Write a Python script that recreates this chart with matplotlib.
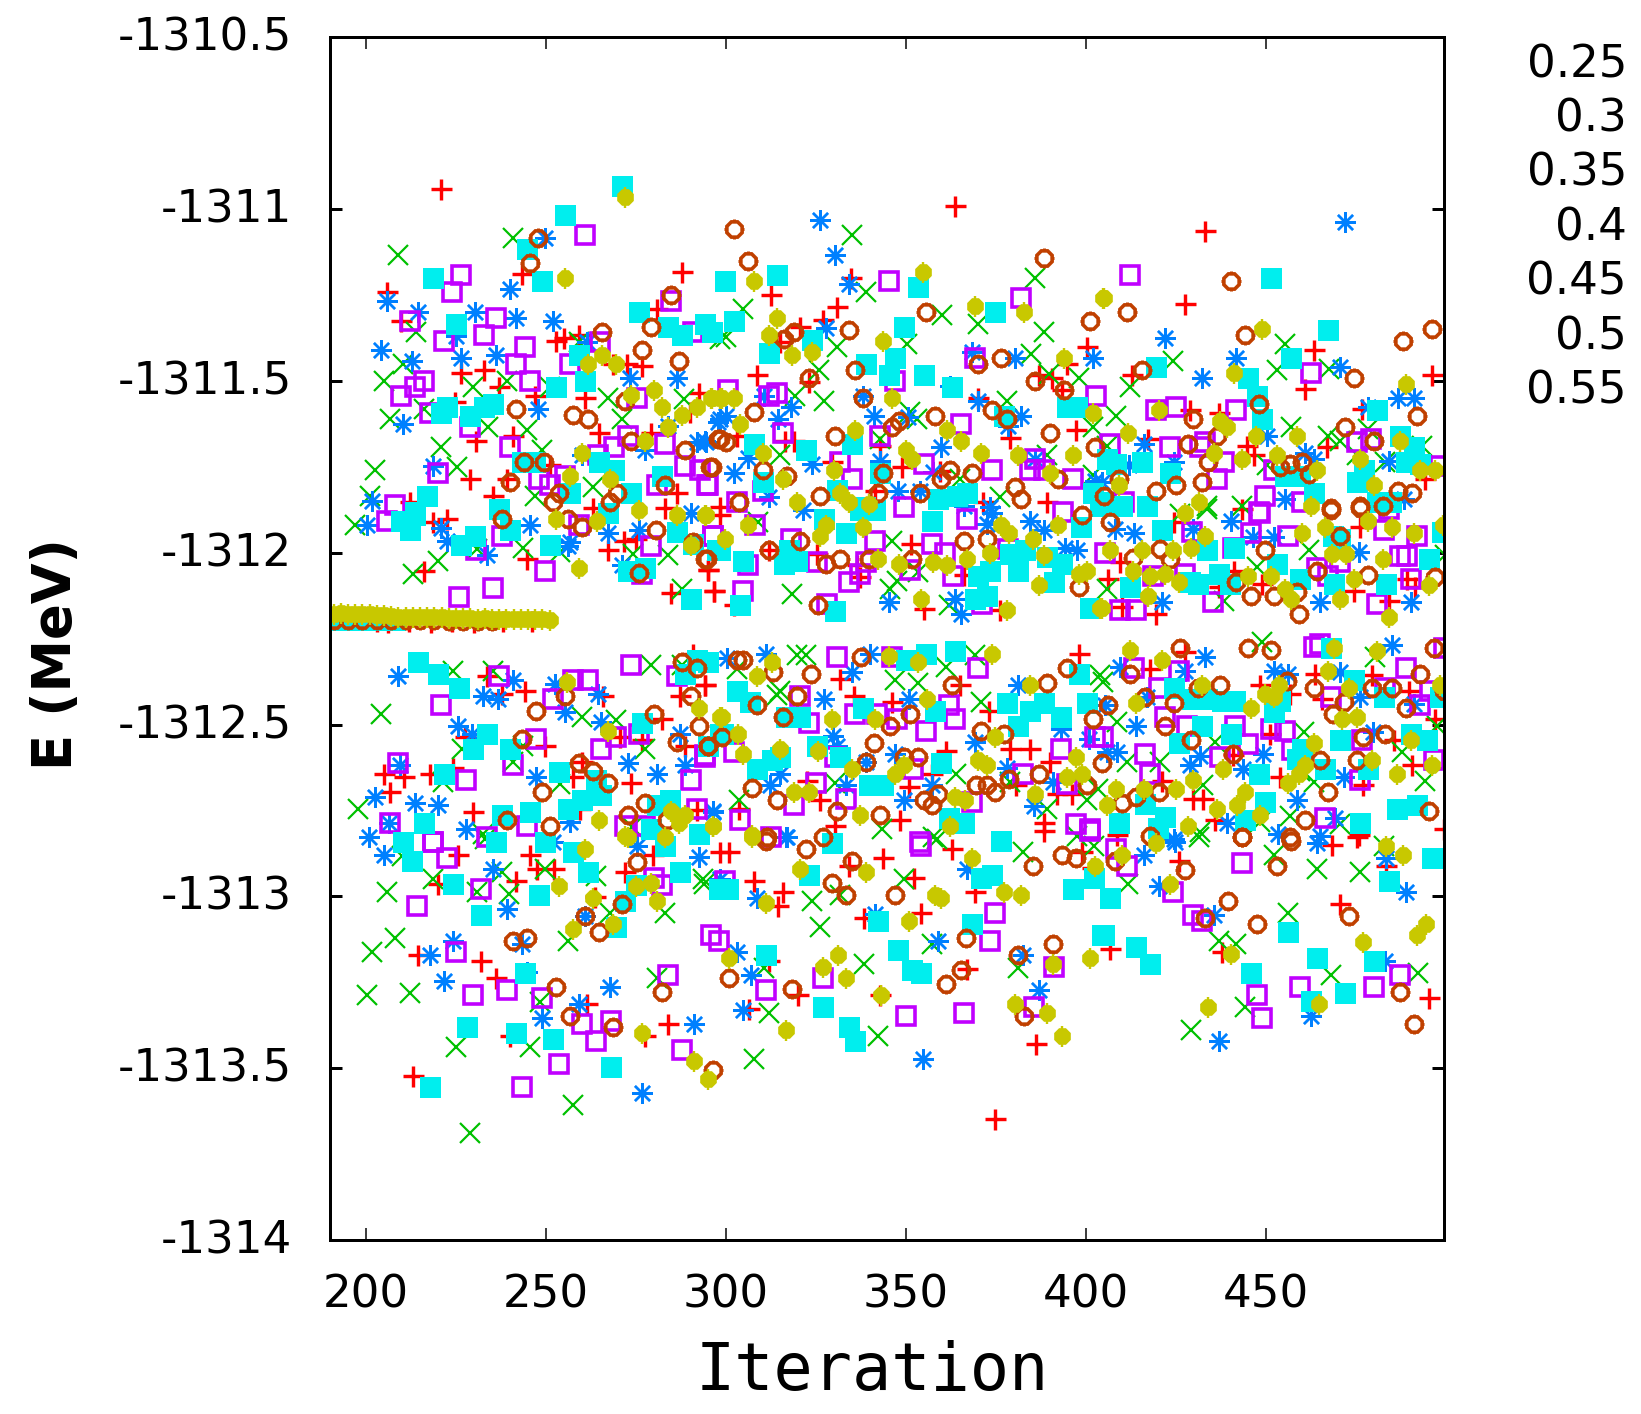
#!/usr/bin/env python
# -*- coding: utf-8 -*-
from matplotlib import pyplot as plt
from matplotlib.path import Path
from matplotlib.transforms import ScaledTranslation

labels = ["0.25", "0.3", "0.35", "0.4", "0.45", "0.5", "0.55"]
xtick_vals = [200, 250, 300, 350, 400, 450]
ytick_vals = [-1310.5, -1311, -1311.5, -1312, -1312.5, -1313, -1313.5, -1314]
ytick_text = ["-1310.5", "-1311", "-1311.5", "-1312", "-1312.5", "-1313", "-1313.5", "-1314"]

# values, (iteration, energy)
pts_025 = [
    (220.8,-1310.941),(205.7,-1311.242),(243.2,-1311.19),(287.8,-1311.183),(209.7,-1311.325),(280.7,-1311.29),
    (259.2,-1311.365),(252.8,-1311.384),(255.1,-1311.375),(272.6,-1311.45),(276.6,-1311.458),(226.4,-1311.476),
    (232.7,-1311.467),(236.9,-1311.517),(268.7,-1311.45),(292.6,-1311.535),(246.8,-1311.543),(260.8,-1311.551),
    (224.7,-1311.56),(230.5,-1311.676),(240.8,-1311.659),(264.8,-1311.651),(279.1,-1311.651),(228.9,-1311.785),
    (239.2,-1311.785),(235.3,-1311.835),(251.1,-1311.746),(286.3,-1311.826),(283,-1311.87),(263.1,-1311.87),
    (212.2,-1311.853),(290,-1311.59),
    (222.4,-1311.901),(218.7,-1311.911),(271.7,-1311.967),(267.1,-1311.993),(275,-1311.959),(244.7,-1312.018),
    (216.2,-1312.053),(295,-1312.05),(284.7,-1312.118),(296.6,-1312.11),(290.9,-1312.294),(294.1,-1312.385),
    (233.5,-1312.358),(244.1,-1312.402),(237.7,-1312.41),(287.2,-1312.418),(265.7,-1312.418),(227.5,-1312.537),
    (282.1,-1312.483),(270.5,-1312.537),(249.7,-1312.561),(276.7,-1312.546),(288.6,-1312.561),(259.9,-1312.609),
    (205,-1312.644),(210.5,-1312.653),(217.8,-1312.644),(224.2,-1312.627),(206.8,-1312.695),(273.6,-1312.669),
    (257.6,-1312.653),(229.7,-1312.754),(291.8,-1312.75),(259.4,-1312.747),
    (225.6,-1312.88),(245.5,-1312.88),(279.8,-1312.88),(247.4,-1312.92),(252.3,-1312.92),(271.9,-1312.93),
    (220.1,-1312.964),(241.6,-1312.954),(263.6,-1313.003),(214.5,-1313.171),(232,-1313.187),(236.1,-1313.238),
    (261.3,-1313.313),(240,-1313.405),(277.5,-1313.405),(283.9,-1313.371),(213,-1313.522),(298.3,-1312.87),
    (363.6,-1310.991),(312.5,-1311.25),(330.9,-1311.285),(334.7,-1311.2),(320.6,-1311.344),(327,-1311.324),
    (400.2,-1311.401),(315,-1311.387),(308.6,-1311.484),(322.9,-1311.504),(386.8,-1311.484),(390.5,-1311.492),
    (394.7,-1311.45),(393.3,-1311.525),(369.9,-1311.55),(397.2,-1311.642),(378.9,-1311.667),(316.4,-1311.674),
    (319,-1311.676),(303,-1311.659),(348.8,-1311.751),(329.4,-1311.735),(359.5,-1311.761),(341.4,-1311.819),
    (371.5,-1311.851),(389.1,-1311.851),(298.4,-1311.868),(342.8,-1311.688),
    (298.2,-1311.891),(311.8,-1311.993),(351.3,-1311.974),(325.2,-1312.003),(336.3,-1312.037),(295.1,-1312.05),
    (366,-1312.066),(337.2,-1312.071),(296.7,-1312.11),(302.1,-1312.153),(355,-1312.165),(376.1,-1312.168),
    (398.1,-1312.294),(331.7,-1312.367),(365,-1312.384),(294.2,-1312.384),(335.4,-1312.417),(346,-1312.435),
    (372.9,-1312.46),(378.9,-1312.57),(384.5,-1312.57),(361.1,-1312.578),(390,-1312.609),(322.4,-1312.663),
    (357.2,-1312.643),(350.7,-1312.682),(326.1,-1312.72),(380.4,-1312.677),(391.9,-1312.701),(396,-1312.701),
    (303.7,-1312.745),(348.2,-1312.777),(330.3,-1312.796),(388.2,-1312.786),
    (300.7,-1312.87),(362.7,-1312.862),(343.7,-1312.888),(334.2,-1312.911),(307.8,-1312.954),(352.1,-1312.947),
    (398.9,-1312.872),(315.8,-1312.986),(369.2,-1312.988),(314.3,-1313.029),(354.1,-1313.047),(338.2,-1313.063),
    (311.8,-1313.187),(366.9,-1313.211),(320.1,-1313.287),(342.8,-1313.287),(306.5,-1313.328),(386,-1313.43),
    (374.7,-1313.648),(401.6,-1312.916),(388.4,-1312.81),
    (433.1,-1311.065),(427.5,-1311.276),(463.4,-1311.41),(412.7,-1311.484),(460.9,-1311.523),(496,-1311.484),
    (428.9,-1311.586),(437,-1311.593),(466.9,-1311.691),(476.6,-1311.581),(444.7,-1311.688),(446.5,-1311.715),
    (494.2,-1311.785),(417.3,-1311.669),
    (443.3,-1311.872),(424.3,-1311.911),(476.1,-1311.925),(409.5,-1312.027),(406,-1312.076),(448.8,-1312.09),
    (436.8,-1312.1),(441,-1312.052),(491.4,-1312.1),(474.3,-1312.11),(489.1,-1312.076),(484,-1312.139),
    (409.9,-1312.158),(419.5,-1312.178),(427.5,-1312.289),(417.8,-1312.338),(463.6,-1312.352),(479.4,-1312.357),
    (448.4,-1312.386),(456.7,-1312.41),(489.6,-1312.401),(465.5,-1312.425),(497,-1312.483),(451.1,-1312.527),
    (485.4,-1312.546),(453.9,-1312.653),(490.5,-1312.617),(440.9,-1312.59),(421,-1312.663),(432.6,-1312.716),
    (429.8,-1312.716),(477,-1312.677),(435.9,-1312.779),(475.7,-1312.821),(408.5,-1312.821),(499.3,-1312.803),
    (468.3,-1312.85),(475.2,-1312.828),(425.9,-1312.896),(483.4,-1312.911),(406.7,-1313.153),(470.4,-1313.022),
    (437.8,-1313.163),(495.3,-1313.296),
    (203,-1312.2),(206,-1312.202),(212,-1312.2),(218,-1312.201),(224,-1312.2),(230,-1312.201),(238,-1312.2),(246,-1312.2),
]
pts_03 = [
    (209,-1311.133),(240.8,-1311.084),(213.8,-1311.358),(205,-1311.5),(210.3,-1311.45),(229.7,-1311.518),
    (239.2,-1311.5),(216.1,-1311.581),(206.6,-1311.61),(233.9,-1311.633),(244.7,-1311.642),(220.9,-1311.693),
    (248.8,-1311.701),(202.5,-1311.759),(225.4,-1311.751),(201.1,-1311.835),(246.9,-1311.835),(263,-1311.809),
    (267.1,-1311.55),(271,-1311.61),(288.3,-1311.552),(259.2,-1311.387),(251.1,-1311.517),(298.3,-1311.378),
    (196.9,-1311.919),(220.1,-1312.025),(213.1,-1312.061),(243.7,-1311.987),(283.8,-1312.006),(274.2,-1312.003),
    (230.7,-1311.989),(253.9,-1311.998),(287.7,-1312.105),(224.2,-1312.343),(235.3,-1312.343),(279.1,-1312.326),
    (287.7,-1312.328),(204.1,-1312.469),(259.9,-1312.478),(269.4,-1312.488),(226.6,-1312.57),(243.7,-1312.561),
    (277.5,-1312.57),(240.9,-1312.609),(253.9,-1312.672),(197.7,-1312.745),(221.5,-1312.667),(232.6,-1312.818),
    (273.8,-1312.798),
    (205.7,-1312.988),(218.7,-1312.95),(230.7,-1312.988),(239.8,-1312.993),(237.7,-1312.93),(249.7,-1312.92),
    (264,-1312.94),(283,-1313.047),(267.8,-1313.047),(208,-1313.121),(201.6,-1313.163),(256,-1313.13),
    (200.2,-1313.288),(212.2,-1313.281),(248.3,-1313.308),(280.7,-1313.238),(225,-1313.438),(245.5,-1313.438),
    (257.6,-1313.606),(228.9,-1313.689),(293.9,-1312.964),(293.7,-1312.95),(209.9,-1312.882),(233,-1312.833),
    (334.9,-1311.074),(304.6,-1311.29),(339,-1311.242),(359.9,-1311.307),(385.9,-1311.2),(369.9,-1311.334),
    (388.4,-1311.358),(300,-1311.373),(350.3,-1311.392),(330.9,-1311.402),(384.7,-1311.423),(389.6,-1311.48),
    (325.7,-1311.467),(397.9,-1311.492),(327.1,-1311.559),(319.2,-1311.543),(378,-1311.559),(351.1,-1311.591),
    (353,-1311.61),(402,-1311.635),(342.8,-1311.669),(315,-1311.717),(365,-1311.785),(376.1,-1311.838),
    (402,-1311.775),(389.1,-1311.717),
    (346,-1311.967),(309,-1311.911),(318.3,-1312.119),(345.4,-1312.105),(347.4,-1312.081),(353.4,-1312.056),
    (361.8,-1312.153),(319.7,-1312.297),(322.2,-1312.297),(369.2,-1312.297),(361.1,-1312.333),(303,-1312.338),
    (347,-1312.369),(353.3,-1312.378),(403.9,-1312.357),(315,-1312.403),(314.1,-1312.415),(370.9,-1312.435),
    (363.9,-1312.643),(330.3,-1312.669),(378.9,-1312.667),(303.7,-1312.721),(400.2,-1312.721),(389.1,-1312.745),
    (343.3,-1312.803),(357.6,-1312.828),(397.4,-1312.823),
    (358.5,-1312.833),(382.6,-1312.87),(349.3,-1312.948),(402.1,-1312.852),(323.9,-1313.013),(331.7,-1312.996),
    (326.1,-1313.09),(357.2,-1313.139),(338.2,-1313.197),(310.4,-1313.207),(381.2,-1313.207),(312,-1313.339),
    (342.2,-1313.405),(307.8,-1313.473),
    (424.1,-1311.442),(455.3,-1311.392),(453,-1311.468),(412.2,-1311.518),(408.4,-1311.601),(467.5,-1311.465),
    (456.9,-1311.633),(478.4,-1311.64),(467.1,-1311.659),(493.3,-1311.688),(470.6,-1311.674),(475.2,-1311.717),
    (483.1,-1311.737),(450.2,-1311.746),(405.8,-1311.688),(433.5,-1311.863),(443.3,-1311.863),
    (426.1,-1311.887),(433.5,-1311.874),(461.8,-1311.993),(447.4,-1312.042),(405.8,-1312.105),(438.2,-1312.139),
    (448.8,-1312.26),(404.8,-1312.377),(480.3,-1312.304),(408.5,-1312.493),(435.9,-1312.551),(497.4,-1312.503),
    (460.4,-1312.522),(487.7,-1312.58),(420.6,-1312.609),(411.3,-1312.609),(432.6,-1312.677),(494.2,-1312.663),
    (459.5,-1312.635),(463.2,-1312.667),(403.4,-1312.687),(456.7,-1312.765),(499.7,-1312.008),(448.4,-1312.784),
    (470.6,-1312.789),(431.7,-1312.813),
    (431.4,-1312.828),(452.1,-1312.88),(464.1,-1312.92),(476.1,-1312.93),(411.5,-1312.964),(482.6,-1312.852),
    (456.2,-1313.047),(437,-1313.13),(441.7,-1313.139),(468.1,-1313.228),(492.1,-1313.223),(444.2,-1313.322),
    (429.1,-1313.389),
]
pts_035 = [
    (205.7,-1311.267),(214.5,-1311.3),(230.4,-1311.299),(241.6,-1311.317),(251.9,-1311.325),(240,-1311.232),
    (249.7,-1311.084),(204.1,-1311.409),(212.9,-1311.442),(226.4,-1311.433),(236,-1311.424),(273.4,-1311.492),
    (286.3,-1311.491),(247.9,-1311.583),(210.3,-1311.626),(291.8,-1311.678),(294.4,-1311.678),(298.3,-1311.61),
    (277.5,-1311.7),(260,-1311.717),(218.6,-1311.749),(201.6,-1311.848),(225,-1311.368),(261.3,-1311.387),(283.9,-1311.63),
    (200.2,-1311.919),(220.8,-1311.927),(222.4,-1311.967),(245.5,-1311.919),(267.2,-1311.943),(275.9,-1311.935),
    (256.6,-1311.969),(256.2,-1311.979),(233.5,-1312.008),(290.2,-1311.884),(271,-1312.037),(209,-1312.36),
    (240.7,-1312.369),(252.5,-1312.381),(232.6,-1312.418),(236.7,-1312.425),(264.5,-1312.41),(255.2,-1312.464),
    (225.6,-1312.503),(229.3,-1312.527),(265.4,-1312.493),(287.2,-1312.527),(209.4,-1312.619),(272.7,-1312.611),
    (288.6,-1312.619),(280.7,-1312.643),(247.2,-1312.653),(202.5,-1312.711),(213.6,-1312.728),(220.1,-1312.735),
    (296.5,-1312.753),(206.5,-1312.786),(227.9,-1312.803),(256.6,-1312.784),(200.9,-1312.828),
    (205,-1312.88),(235.3,-1312.92),(275.2,-1312.853),(292.6,-1312.886),(252,-1312.843),(239.2,-1313.037),
    (260.8,-1313.056),(224.1,-1313.13),(243.2,-1313.139),(217.8,-1313.171),(221.6,-1313.245),(244.6,-1313.221),
    (267.9,-1313.264),(259.1,-1313.313),(248.8,-1313.355),(291.1,-1313.371),(276.6,-1313.572),(298.3,-1312.95),
    (326.1,-1311.033),(330.2,-1311.133),(334.1,-1311.217),(327.8,-1311.347),(368.4,-1311.417),(380.3,-1311.433),
    (401.9,-1311.433),(310.4,-1311.543),(338,-1311.543),(362.2,-1311.514),(369.9,-1311.557),(318.1,-1311.576),
    (300,-1311.601),(314.4,-1311.611),(341.2,-1311.601),(350.4,-1311.606),(382,-1311.601),(297.9,-1311.62),
    (378.4,-1311.63),(294.2,-1311.675),(359.7,-1311.691),(306.2,-1311.725),(323.8,-1311.743),(342.8,-1311.732),
    (385.9,-1311.727),(302.2,-1311.768),(311.8,-1311.838),(347.7,-1311.819),(353.9,-1311.819),(357.6,-1311.766),
    (402.5,-1311.79),(366,-1311.863),(373.4,-1311.868),
    (321.5,-1311.875),(373.8,-1311.884),(384.5,-1311.909),(372.4,-1311.916),(388.2,-1311.935),(394.2,-1311.987),
    (397.4,-1311.993),(345.3,-1312.142),(363.6,-1312.134),(365.3,-1312.178),(300.2,-1312.307),(311,-1312.294),
    (340,-1312.294),(334.9,-1312.347),(381.2,-1312.384),(327.1,-1312.427),(350.9,-1312.427),(393.1,-1312.512),
    (400.7,-1312.541),(329.8,-1312.532),(369.2,-1312.551),(347,-1312.585),(330.8,-1312.561),(338.8,-1312.609),
    (378,-1312.627),(315,-1312.643),(390.7,-1312.667),(312.2,-1312.677),(333.3,-1312.677),(357.2,-1312.677),
    (349.3,-1312.719),(385.4,-1312.738),(296.5,-1312.755),(316.9,-1312.828),
    (316.6,-1312.828),(366.9,-1312.92),(308.5,-1313.005),(341.4,-1313.051),(358.8,-1313.13),(303,-1313.163),
    (382.6,-1313.171),(307,-1313.229),(386.8,-1313.272),(304.7,-1313.331),(354.8,-1313.473),
    (472,-1311.038),(422,-1311.375),(441.7,-1311.433),(470.6,-1311.459),(432.2,-1311.491),(478.4,-1311.576),
    (486.5,-1311.55),(491.1,-1311.55),(450.2,-1311.659),(416.2,-1311.683),(460.9,-1311.709),(463.2,-1311.727),
    (484,-1311.734),(424.3,-1311.737),(411.8,-1311.746),(404.4,-1311.795),(455.3,-1311.843),(488.2,-1311.843),
    (440.2,-1311.909),(413.2,-1311.943),(408.1,-1311.93),(429.8,-1311.93),(452.1,-1311.955),(446.3,-1311.955),
    (475.7,-1311.998),(421,-1312.144),(465,-1312.144),(490.3,-1312.144),(433.1,-1312.304),(484.9,-1312.268),
    (409.5,-1312.333),(452.1,-1312.343),(456.2,-1312.352),(427.5,-1312.343),(470.6,-1312.347),(416.9,-1312.42),
    (405.3,-1312.444),(476.1,-1312.42),(413.9,-1312.503),(491,-1312.44),(479.8,-1312.522),(408.5,-1312.58),
    (405.8,-1312.58),(431.5,-1312.592),(449.1,-1312.585),(428.9,-1312.619),(443.7,-1312.629),(471.5,-1312.653),
    (458.7,-1312.719),(469,-1312.771),(439.1,-1312.787),(453.4,-1312.818),(424.3,-1312.832),(465,-1312.823),
    (424.6,-1312.841),(464.1,-1312.845),(416.2,-1312.88),(483.4,-1312.888),(420.3,-1312.969),(488.8,-1312.986),
    (435.4,-1313.054),(483.1,-1313.187),(462.5,-1313.347),(437,-1313.421),
]
pts_04 = [
    (260.8,-1311.075),(226.4,-1311.191),(224,-1311.241),(212.2,-1311.325),(236.1,-1311.317),(221.6,-1311.384),
    (232.8,-1311.366),(244.1,-1311.401),(284.7,-1311.267),(241.6,-1311.45),(256.6,-1311.45),(216,-1311.5),
    (213.7,-1311.517),(245.5,-1311.5),(209.7,-1311.544),(217.8,-1311.592),(228.9,-1311.633),(275.2,-1311.55),
    (272.8,-1311.659),(240,-1311.692),(268.8,-1311.692),(283,-1311.683),(288.6,-1311.749),(292.8,-1311.759),
    (220.1,-1311.768),(255.3,-1311.776),(264.5,-1311.717),(251.1,-1311.803),(295.1,-1311.803),(248,-1311.785),
    (280.7,-1311.803),(208,-1311.861),(265,-1311.387),(290.9,-1311.358),
    (205.7,-1311.909),(237.7,-1311.95),(230.5,-1311.993),(279.1,-1311.979),(249.7,-1312.053),(296.5,-1311.95),
    (276.6,-1312.061),(259.2,-1311.919),(235.3,-1312.102),(225.8,-1312.128),(273.6,-1312.326),(286.3,-1312.36),
    (236.9,-1312.36),(257.6,-1312.369),(261.6,-1312.369),(220.8,-1312.444),(251.8,-1312.427),(269.4,-1312.536),
    (275.8,-1312.527),(247.2,-1312.543),(265.4,-1312.57),(240.9,-1312.619),(294.1,-1312.593),(208.8,-1312.611),
    (227.9,-1312.661),(290.2,-1312.661),(206.6,-1312.786),(244.6,-1312.794),(271.9,-1312.794),(277.5,-1312.794),
    (291.8,-1312.745),(233.5,-1312.828),(218.7,-1312.842),
    (218.5,-1312.843),(222.4,-1312.888),(232,-1312.979),(280,-1312.947),(282.1,-1312.968),(214.3,-1313.029),
    (224.9,-1313.163),(295.8,-1313.112),(298.1,-1313.13),(239.1,-1313.273),(229.7,-1313.288),(248.8,-1313.296),
    (283.9,-1313.228),(259.9,-1313.371),(268,-1313.363),(263.9,-1313.421),(287.7,-1313.446),(253.6,-1313.488),
    (243.3,-1313.555),
    (345.3,-1311.209),(382,-1311.258),(300.6,-1311.526),(347,-1311.499),(314.1,-1311.535),(312,-1311.543),
    (402.8,-1311.543),(369.2,-1311.433),(365.2,-1311.625),(315.9,-1311.651),(342.8,-1311.659),(331.7,-1311.737),
    (373.8,-1311.759),(355,-1311.741),(384.5,-1311.759),(388.4,-1311.759),(396.3,-1311.785),(334.9,-1311.785),
    (385.9,-1311.727),(294.8,-1311.802),(310.2,-1311.819),(303,-1311.853),(349.3,-1311.868),(393.7,-1311.882),
    (366.9,-1311.901),(308.1,-1311.919),(296.5,-1311.95),(357.2,-1311.974),(318,-1311.96),(341.4,-1311.967),
    (306.2,-1312.035),(360.9,-1312),(325.2,-1312.027),(338.9,-1312.027),(351,-1312.051),(334.2,-1312.085),
    (337.2,-1312.061),(362.9,-1312.068),(304.8,-1312.11),(328,-1312.15),(371,-1312.15),(378.4,-1311.99),
    (330.9,-1312.303),(369.9,-1312.335),(346.1,-1312.303),(320.6,-1312.417),(361.8,-1312.444),(335.9,-1312.469),
    (341.9,-1312.469),(347.4,-1312.483),(363.6,-1312.485),(355.6,-1312.519),(323,-1312.495),(393,-1312.57),
    (402.5,-1312.536),(302.1,-1312.58),(294.2,-1312.59),(330.3,-1312.593),(351.8,-1312.629),(325,-1312.669),
    (382.6,-1312.643),(394.7,-1312.672),(333.4,-1312.718),(318.9,-1312.735),(303.9,-1312.777),(312.5,-1312.828),
    (397.2,-1312.789),(401.1,-1312.803),(353.9,-1312.842),(368.3,-1312.726),
    (354.2,-1312.853),(401.1,-1312.81),(299.7,-1312.954),(374.7,-1313.047),(373.4,-1313.13),(327,-1313.238),
    (391,-1313.205),(311.1,-1313.273),(350,-1313.347),(366.1,-1313.339),(385.4,-1313.323),
    (412.2,-1311.191),(462.5,-1311.477),(419.5,-1311.584),(425,-1311.576),(441.7,-1311.584),(406.7,-1311.683),
    (423.4,-1311.692),(433.1,-1311.678),(431.5,-1311.693),(438.2,-1311.737),(436.3,-1311.785),(452.1,-1311.759),
    (475.2,-1311.678),(479.2,-1311.669),(498.4,-1311.749),(410.4,-1311.853),(449.7,-1311.834),(459.9,-1311.853),
    (447.9,-1311.882),
    (448.2,-1311.884),(484,-1311.872),(429.4,-1311.94),(445.9,-1311.943),(456,-1311.95),(491.9,-1311.95),
    (482.6,-1311.935),(440.8,-1311.987),(405.3,-1312),(487.2,-1312.01),(489.1,-1312.01),(464.1,-1312.044),
    (470.6,-1312.027),(427.5,-1312.061),(418.7,-1312.068),(467.3,-1312.068),(490.3,-1312.076),(435.2,-1312.144),
    (409.3,-1312.168),(413.9,-1312.168),(480.8,-1312.15),(425.9,-1312.343),(413.2,-1312.335),(488.8,-1312.335),
    (463.4,-1312.275),(465,-1312.267),(499.3,-1312.277),(420.2,-1312.394),(468.1,-1312.419),(483.1,-1312.394),
    (495.6,-1312.402),(492.8,-1312.444),(422,-1312.478),(428,-1312.503),(441.4,-1312.503),(451.4,-1312.512),
    (455.3,-1312.519),(404.8,-1312.536),(445.1,-1312.556),(416.4,-1312.585),(437.2,-1312.595),(457.2,-1312.575),
    (476.6,-1312.546),(417.8,-1312.643),(496.5,-1312.604),(476.1,-1312.661),(466.4,-1312.771),
    (408.4,-1312.862),(443.3,-1312.904),(411.3,-1312.911),(424.1,-1312.986),(429.7,-1313.054),(432.2,-1313.071),
    (459.5,-1313.263),(480,-1313.263),(487.2,-1313.229),(447.4,-1313.288),(448.9,-1313.355),
]
pts_045 = [
    (271.1,-1310.932),(255.2,-1311.017),(244.7,-1311.116),(218.6,-1311.2),(248.9,-1311.209),(225,-1311.334),
    (275.8,-1311.299),(283.8,-1311.343),(287.7,-1311.366),(294.1,-1311.334),(296,-1311.358),(259.1,-1311.424),
    (260.8,-1311.5),(252.8,-1311.517),(222.4,-1311.576),(220.8,-1311.593),(235.3,-1311.567),(232.7,-1311.576),
    (228.9,-1311.602),(243.3,-1311.737),(246.9,-1311.737),(264.7,-1311.737),(268.8,-1311.759),(256.6,-1311.826),
    (273.6,-1311.826),(282.2,-1311.776),(216.9,-1311.835),(299.7,-1311.208),(236.9,-1311.872),(213.6,-1311.882),
    (209.7,-1311.909),(213.6,-1311.891),(212.2,-1311.935),(240,-1311.935),(230.4,-1311.952),(226.4,-1311.977),
    (251.1,-1311.977),(267.3,-1311.884),(286.3,-1311.94),(290.9,-1311.974),(297.4,-1311.993),(272.8,-1312.052),
    (277.5,-1312.044),(290.3,-1312.134),(214.4,-1312.319),(220.1,-1312.352),(225.8,-1312.393),(291.9,-1312.311),
    (295,-1312.318),(288.6,-1312.352),(276.6,-1312.495),(233.6,-1312.527),(229.7,-1312.57),(240,-1312.57),
    (298.3,-1312.527),(295,-1312.561),(221.6,-1312.643),(253.6,-1312.637),(263.9,-1312.661),(259.9,-1312.719),
    (265.4,-1312.704),(256,-1312.745),(284.4,-1312.719),(280.7,-1312.735),(245.5,-1312.754),(237.8,-1312.763),
    (216.1,-1312.786),(279.1,-1312.803),(292.6,-1312.818),(236.1,-1312.842),(249.7,-1312.842),(210.3,-1312.842),
    (212.9,-1312.896),(257.4,-1312.87),(261.6,-1312.928),(283,-1312.853),(287.2,-1312.928),(224.1,-1312.964),
    (248,-1312.996),(232,-1313.054),(271.9,-1313.013),(275,-1312.968),(269.3,-1313.088),(244.1,-1313.223),
    (228,-1313.38),(241.6,-1313.398),(251.9,-1313.415),(268,-1313.497),(217.8,-1313.555),(298.1,-1312.979),
    (299.7,-1311.209),(314.2,-1311.191),(353.4,-1311.226),(374.7,-1311.299),(349.3,-1311.343),(302.2,-1311.325),
    (312,-1311.418),(323.9,-1311.382),(338.9,-1311.45),(347,-1311.433),(345.3,-1311.484),(355,-1311.484),
    (362.8,-1311.517),(394.7,-1311.576),(397.4,-1311.576),(377.2,-1311.603),(307.8,-1311.683),(322.2,-1311.701),
    (334.9,-1311.683),(342.8,-1311.768),(310.3,-1311.794),(330.9,-1311.817),(358.9,-1311.843),(364.1,-1311.834),
    (366.9,-1311.826),(401.9,-1311.826),(338.6,-1311.868),(403.9,-1311.853),
    (357.2,-1311.909),(327.1,-1311.901),(333.4,-1311.943),(337.2,-1311.877),(341.4,-1311.877),(298.4,-1311.993),
    (304.7,-1312.025),(316,-1312.034),(319.7,-1312.025),(317.6,-1311.993),(398.6,-1311.925),(378.9,-1312.003),
    (383.1,-1311.993),(389.1,-1312.013),(393.3,-1312.032),(381,-1312.052),(373.4,-1312.052),(370,-1312.068),
    (391,-1312.085),(372.4,-1312.127),(369.2,-1312.134),(303.9,-1312.151),(330.3,-1312.169),(401.1,-1312.16),
    (363.6,-1312.285),(355.5,-1312.294),(349.9,-1312.312),(398.1,-1312.352),(303,-1312.401),(306.7,-1312.435),
    (378.1,-1312.437),(388.4,-1312.437),(384.5,-1312.46),(393,-1312.478),(400.2,-1312.437),(338,-1312.452),
    (358.1,-1312.46),(316.7,-1312.478),(320.6,-1312.478),(381,-1312.503),(299.1,-1312.527),(325.2,-1312.561),
    (331.7,-1312.593),(312.7,-1312.602),(315,-1312.595),(359.7,-1312.611),(308.5,-1312.629),(339.7,-1312.677),
    (343.7,-1312.677),(362,-1312.771),(366,-1312.787),
    (376.4,-1312.838),(329.5,-1312.845),(323.1,-1312.938),(370.9,-1312.947),(373.8,-1312.938),(396.4,-1312.979),
    (402.1,-1312.947),(300.6,-1312.979),(342.2,-1313.071),(368.3,-1313.08),(404.4,-1313.112),(311.1,-1313.171),
    (347.8,-1313.156),(351.7,-1313.214),(354.2,-1313.223),(327,-1313.322),(334.2,-1313.38),(335.9,-1313.421),
    (451.4,-1311.2),(467.2,-1311.351),(456.9,-1311.433),(419.5,-1311.459),(445,-1311.491),(447.4,-1311.543),
    (480.8,-1311.584),(448.9,-1311.61),(487.2,-1311.659),(405.8,-1311.727),(408.4,-1311.741),(415.5,-1311.737),
    (423.4,-1311.768),(491.1,-1311.691),(492.8,-1311.741),(488.9,-1311.737),(455.3,-1311.776),(459.5,-1311.776),
    (477.1,-1311.759),(475.3,-1311.795),(463.4,-1311.826),(409.9,-1311.863),(416.9,-1311.863),(404.4,-1311.863),
    (480.8,-1311.853),(484.7,-1311.853),
    (421,-1311.935),(468.7,-1311.951),(441.2,-1311.986),(433.5,-1311.993),(495.3,-1312.018),(470.6,-1311.959),
    (436.8,-1312.061),(431.2,-1312.09),(440,-1312.09),(459.5,-1312.076),(468.9,-1312.092),(412.2,-1312.1),
    (483.3,-1312.092),(428.9,-1312.085),(498.8,-1311.94),(453,-1312.032),(424.3,-1312.393),(468,-1312.277),
    (474.3,-1312.37),(429.4,-1312.425),(433.5,-1312.425),(437.7,-1312.43),(441.4,-1312.43),(498.4,-1312.42),
    (453.9,-1312.43),(452.1,-1312.464),(482.6,-1312.42),(432.2,-1312.503),(440.3,-1312.527),(470.6,-1312.544),
    (459.9,-1312.57),(425.7,-1312.553),(490.3,-1312.527),(494.7,-1312.544),(458.7,-1312.6),(448.1,-1312.643),
    (466.4,-1312.629),(478.4,-1312.629),(449.7,-1312.726),(486.3,-1312.745),(491.9,-1312.735),(416.4,-1312.73),
    (444.2,-1312.777),(409.2,-1312.786),(422,-1312.769),(476.1,-1312.786),(420.1,-1312.8),
    (496,-1312.888),(484.2,-1312.954),(406.7,-1313.005),(456.1,-1313.103),(405,-1313.112),(413.9,-1313.147),
    (417.8,-1313.196),(464.2,-1313.179),(480,-1313.188),(445.9,-1313.223),(472,-1313.281),(462.5,-1313.304),
    (189,-1312.195),(193,-1312.196),(197,-1312.195),(201,-1312.196),(205,-1312.195),(208,-1312.196),
]
pts_05 = [
    (247.9,-1311.084),(245.5,-1311.158),(284.7,-1311.25),(265.5,-1311.358),(279.1,-1311.343),(276.6,-1311.409),
    (287,-1311.442),(241.6,-1311.583),(257.6,-1311.6),(261.6,-1311.61),(271.8,-1311.559),(273.6,-1311.675),
    (288.6,-1311.7),(296,-1311.751),(297.8,-1311.669),(243.9,-1311.735),(249.4,-1311.735),(240,-1311.793),
    (253.5,-1311.826),(251.9,-1311.851),(269.6,-1311.826),(267.9,-1311.851),(283,-1311.802),
    (237.7,-1311.901),(256.2,-1311.901),(259.9,-1311.925),(280.5,-1311.935),(290.9,-1311.969),(294.2,-1312.018),
    (275.9,-1312.058),(287.9,-1312.318),(291.8,-1312.335),(255.2,-1312.418),(290.2,-1312.418),(247.2,-1312.46),
    (280,-1312.469),(292.6,-1312.503),(243.2,-1312.543),(286.3,-1312.551),(295,-1312.561),(259.1,-1312.611),
    (263.1,-1312.635),(267.1,-1312.669),(248.8,-1312.695),(277.5,-1312.728),(272.7,-1312.762),(239.2,-1312.778),
    (251.1,-1312.796),(283.5,-1312.779),
    (275.2,-1312.901),(271.1,-1313.022),(260.8,-1313.056),(264.7,-1313.105),(244.8,-1313.121),(240.9,-1313.13),
    (252.8,-1313.264),(282.2,-1313.279),(256.6,-1313.347),(268.7,-1313.38),(296.5,-1313.504),
    (302.2,-1311.058),(306.2,-1311.15),(355.6,-1311.3),(388.4,-1311.142),(401.1,-1311.325),(319,-1311.358),
    (334.2,-1311.351),(316,-1311.378),(335.9,-1311.468),(323,-1311.492),(369.9,-1311.45),(376.4,-1311.433),
    (385.9,-1311.5),(393.9,-1311.525),(307.8,-1311.591),(338,-1311.55),(358.1,-1311.601),(374,-1311.584),
    (378,-1311.61),(347.9,-1311.616),(346.1,-1311.635),(330.3,-1311.659),(390,-1311.651),(298.4,-1311.669),
    (300,-1311.678),(295.6,-1311.751),(310.2,-1311.759),(316.9,-1311.777),(402.5,-1311.693),(362.2,-1311.759),
    (368.4,-1311.768),(343.5,-1311.768),(359.7,-1311.785),(380.3,-1311.809),(392.3,-1311.785),(326.1,-1311.836),
    (342.3,-1311.826),(353.9,-1311.826),(303.7,-1311.851),(381.9,-1311.843),
    (294.7,-1312.018),(312,-1311.993),(320.6,-1311.967),(327.8,-1312.034),(331.7,-1312.018),(339.6,-1312.018),
    (351.6,-1312.018),(366,-1311.967),(372.4,-1311.959),(398.8,-1311.891),(325.4,-1312.151),(397.9,-1312.1),
    (303,-1312.313),(304.8,-1312.313),(337.4,-1312.304),(313,-1312.347),(323.7,-1312.352),(394.7,-1312.335),
    (362.7,-1312.386),(389.1,-1312.378),(319.8,-1312.418),(308.7,-1312.444),(351,-1312.469),(315.8,-1312.478),
    (401.9,-1312.485),(345.6,-1312.503),(370.9,-1312.519),(377.2,-1312.528),(341.2,-1312.553),(299,-1312.536),
    (295.1,-1312.561),(338.8,-1312.609),(349.3,-1312.595),(353.3,-1312.595),(386.8,-1312.643),(378.7,-1312.658),
    (369.4,-1312.677),(374.7,-1312.695),(372.4,-1312.677),(400.2,-1312.677),(307.2,-1312.685),(359,-1312.701),
    (355,-1312.719),(357.3,-1312.735),(314.1,-1312.719),(330.9,-1312.753),(342.8,-1312.762),(326.9,-1312.828),
    (311.3,-1312.828),
    (311.1,-1312.838),(322.2,-1312.862),(335,-1312.896),(393.3,-1312.88),(397.2,-1312.888),(385.2,-1312.913),
    (329.4,-1312.962),(333.3,-1312.996),(347,-1312.996),(366.7,-1313.12),(390.8,-1313.138),(381,-1313.172),
    (365.2,-1313.213),(300.7,-1313.237),(361.2,-1313.255),(318.2,-1313.271),(382.7,-1313.347),
    (440.2,-1311.208),(411.3,-1311.3),(444.2,-1311.366),(496,-1311.35),(488,-1311.384),(415.6,-1311.467),
    (474.5,-1311.492),(448.1,-1311.567),(491.9,-1311.601),(429.8,-1311.61),(472,-1311.635),(480,-1311.675),
    (428.3,-1311.685),(436.3,-1311.659),(433.8,-1311.737),(453.9,-1311.751),(456.7,-1311.741),(459.9,-1311.735),
    (409,-1311.785),(461.8,-1311.771),(432.2,-1311.793),(424.9,-1311.802),(419.5,-1311.819),(405,-1311.836),
    (486.6,-1311.819),(490.5,-1311.826),(468,-1311.87),(476.1,-1311.865),(482.4,-1311.863),
    (406.7,-1311.911),(468.1,-1311.877),(476.1,-1311.869),(470.4,-1311.95),(449.7,-1311.993),(420.6,-1311.989),
    (423.4,-1312.018),(413,-1312.016),(464.1,-1312.052),(478.4,-1312.066),(497,-1312.071),(441.6,-1312.085),
    (445.8,-1312.127),(452.1,-1312.127),(458.5,-1312.115),(459.1,-1312.178),(426,-1312.278),(445.1,-1312.277),
    (451.4,-1312.284),(496.5,-1312.277),(412.2,-1312.352),(492.8,-1312.352),(455.8,-1312.372),(431.2,-1312.394),
    (437.1,-1312.386),(463.4,-1312.394),(479.4,-1312.394),(484.9,-1312.394),(499.3,-1312.401),(416.4,-1312.42),
    (424.3,-1312.437),(488.8,-1312.452),(471.5,-1312.435),(468.7,-1312.469),(406,-1312.444),(422,-1312.503),
    (477,-1312.537),(483.1,-1312.528),(429.1,-1312.544),(440.9,-1312.585),(465,-1312.603),(404.4,-1312.611),
    (475.2,-1312.603),(420.3,-1312.695),(413.9,-1312.711),(409.9,-1312.729),(467.2,-1312.695),(495.3,-1312.753),
    (460.9,-1312.777),(443.3,-1312.828),(456.7,-1312.828),(417.8,-1312.823),
    (443.4,-1312.828),(456.9,-1312.838),(453,-1312.913),(427.5,-1312.922),(408.1,-1312.896),(439.4,-1313.013),
    (472.9,-1313.056),(447.4,-1313.08),(433.1,-1313.063),(487.2,-1313.279),(491.1,-1313.371),
    (191,-1312.196),(195,-1312.197),(199,-1312.197),(203,-1312.197),(207,-1312.197),(211,-1312.197),(215,-1312.197),
    (219,-1312.197),(223,-1312.198),(227,-1312.198),(231,-1312.198),(235,-1312.198),
]
pts_055 = [
    (271.9,-1310.965),(255.2,-1311.2),(265.5,-1311.424),(261.6,-1311.45),(269.4,-1311.45),(273.6,-1311.542),
    (280,-1311.525),(282.3,-1311.576),(287.9,-1311.6),(283.9,-1311.635),(291.9,-1311.576),(296,-1311.55),
    (277.5,-1311.675),(259.9,-1311.709),(256.7,-1311.776),(267.9,-1311.785),(275.8,-1311.877),(298.3,-1311.55),
    (286.3,-1311.891),(294.1,-1311.891),(252.8,-1311.901),(264.1,-1311.909),(290.3,-1311.977),(259.1,-1312.044),
    (255.9,-1312.377),(292.6,-1312.452),(298.3,-1312.478),(267.1,-1312.519),(264.7,-1312.778),(284.6,-1312.753),
    (288.6,-1312.762),(287,-1312.787),(296.5,-1312.794),(271.9,-1312.823),(283,-1312.828),
    (260.8,-1312.862),(272.8,-1312.828),(253.6,-1312.971),(263.1,-1313.005),(275,-1312.971),(279.1,-1312.962),
    (280.7,-1313.013),(268.7,-1313.079),(257.6,-1313.096),(276.6,-1313.398),(291.1,-1313.48),(295,-1313.531),
    (354.8,-1311.184),(307.8,-1311.209),(369.2,-1311.283),(382.8,-1311.3),(314.2,-1311.317),(311.8,-1311.366),
    (343.7,-1311.385),(393.9,-1311.433),(404.8,-1311.258),(318.3,-1311.424),(323.8,-1311.417),(295.9,-1311.55),
    (298.9,-1311.55),(302.1,-1311.55),(346,-1311.55),(303.9,-1311.625),(335.7,-1311.642),(361.3,-1311.642),
    (401.9,-1311.593),(365.2,-1311.675),(310.2,-1311.709),(350,-1311.7),(351.7,-1311.727),(370.9,-1311.709),
    (381.1,-1311.717),(396.3,-1311.717),(330.1,-1311.759),(390,-1311.768),(315.9,-1311.785),(331.7,-1311.826),
    (319.7,-1311.851),(334.2,-1311.851),(339.7,-1311.858),
    (299.7,-1311.959),(306.2,-1311.919),(327.8,-1311.919),(326.1,-1311.95),(338,-1311.925),(294.5,-1311.891),
    (342.1,-1312.018),(347.9,-1312.034),(357.6,-1312.027),(361.3,-1312.035),(366.9,-1312.018),(373.2,-1312),
    (376.4,-1311.919),(378.7,-1311.943),(385.2,-1311.959),(388.4,-1312.008),(392.3,-1311.919),(397.9,-1312.061),
    (400.2,-1312.052),(386.8,-1312.093),(354.1,-1312.134),(378,-1312.168),(403.9,-1312.16),(308.5,-1312.36),
    (312.7,-1312.318),(374,-1312.294),(353.4,-1312.318),(345.3,-1312.301),(384.5,-1312.384),(355.8,-1312.427),
    (299,-1312.478),(329.4,-1312.485),(341.4,-1312.485),(303.2,-1312.527),(374.7,-1312.536),(315,-1312.57),
    (325.4,-1312.577),(304.8,-1312.585),(335,-1312.629),(370.1,-1312.602),(372.4,-1312.619),(349.3,-1312.619),
    (347,-1312.644),(397.2,-1312.595),(394.7,-1312.653),(398.8,-1312.644),(319,-1312.695),(322.9,-1312.695),
    (363.6,-1312.711),(366.4,-1312.719),(385.9,-1312.701),(337.2,-1312.762),(362.1,-1312.794),(296.5,-1312.794),
    (307.2,-1312.821),
    (307.2,-1312.828),(368.4,-1312.888),(320.6,-1312.92),(338.9,-1312.928),(402.5,-1312.913),(377.2,-1312.986),
    (382,-1312.996),(358.1,-1312.996),(359.7,-1313.005),(311.1,-1313.019),(350.9,-1313.071),(331,-1313.171),
    (300.7,-1313.179),(326.9,-1313.206),(333.3,-1313.238),(390.8,-1313.197),(401.1,-1313.179),(342.9,-1313.287),
    (380.3,-1313.313),(389.1,-1313.339),(316.7,-1313.389),(393.3,-1313.405),
    (448.8,-1311.349),(405.1,-1311.258),(441,-1311.477),(488.9,-1311.509),(420.3,-1311.584),(437.1,-1311.617),
    (439.1,-1311.635),(411.5,-1311.651),(447.3,-1311.659),(458.5,-1311.659),(487.2,-1311.675),(435.4,-1311.709),
    (453,-1311.717),(443.4,-1311.727),(476.1,-1311.727),(464.1,-1311.759),(492.8,-1311.759),(497,-1311.759),
    (480,-1311.802),(409.2,-1311.802),(431.4,-1311.851),(462.4,-1311.863),
    (427.5,-1311.884),(478.4,-1311.909),(484.9,-1311.925),(499.1,-1311.919),(460.1,-1311.943),(466.4,-1311.925),
    (491.2,-1311.943),(432.9,-1311.95),(406.7,-1311.993),(415.5,-1311.993),(424.1,-1311.993),(429.1,-1311.986),
    (468.3,-1312.003),(472.2,-1312.003),(482.4,-1312.018),(413,-1312.052),(417.8,-1312.068),(422,-1312.061),
    (425.9,-1312.085),(444.9,-1312.068),(451.4,-1312.068),(474.5,-1312.076),(495.3,-1312.093),(455.3,-1312.105),
    (457,-1312.134),(417.1,-1312.127),(404.4,-1312.16),(470.6,-1312.134),(484,-1312.186),(412.2,-1312.284),
    (468.9,-1312.277),(480.8,-1312.285),(421.1,-1312.311),(467.2,-1312.343),(432.2,-1312.386),(472.9,-1312.394),
    (498.4,-1312.386),(453.7,-1312.386),(449.7,-1312.41),(452.1,-1312.42),(413.9,-1312.437),(445.8,-1312.452),
    (471.2,-1312.485),(475.2,-1312.478),(463.4,-1312.553),(490.3,-1312.544),(479.4,-1312.603),(460.9,-1312.619),
    (437.9,-1312.629),(496,-1312.619),(486.3,-1312.643),(459.2,-1312.644),(456,-1312.669),(408.4,-1312.687),
    (416.2,-1312.687),(424.9,-1312.687),(429.8,-1312.661),(444.2,-1312.697),(405.8,-1312.735),(441.8,-1312.735),
    (436.3,-1312.745),(448.2,-1312.762),(428.2,-1312.796),
    (419.5,-1312.846),(483.4,-1312.852),(488.1,-1312.88),(409.9,-1312.88),(423.4,-1312.964),(494.5,-1313.079),
    (492,-1313.113),(477,-1313.132),(440.2,-1313.169),(433.8,-1313.322),(464.8,-1313.313),
    # plateau before the split
    (189,-1312.178),(191,-1312.178),(193,-1312.176),(195,-1312.178),(197,-1312.179),(199,-1312.178),(201,-1312.177),
    (203,-1312.18),(205,-1312.182),(207,-1312.184),(209,-1312.186),(211,-1312.186),(213,-1312.186),(215,-1312.187),
    (217,-1312.186),(219,-1312.188),(221,-1312.187),(223,-1312.19),(225,-1312.189),(227,-1312.191),(229,-1312.19),
    (231,-1312.192),(233,-1312.191),(235,-1312.193),(237,-1312.192),(239,-1312.193),(241,-1312.192),(243,-1312.194),
    (245,-1312.193),(247,-1312.194),(249,-1312.194),(251,-1312.195),
]

# gnuplot point with its four little ticks
nubs_cross = Path([(0, .7), (0, 1), (0, -.7), (0, -1), (.7, 0), (1, 0), (-.7, 0), (-1, 0)],
                  [Path.MOVETO, Path.LINETO] * 4)
nubs_vert = Path([(0, .6), (0, 1), (0, -.6), (0, -1)], [Path.MOVETO, Path.LINETO] * 2)

PX = 0.72
fig = plt.figure(figsize=(16.41, 14.14), dpi=100)
ax = fig.add_axes([330 / 1641, 1 - 1240 / 1414, 1114 / 1641, 1202.7 / 1414])


def draw(pts, **style):
    xs = [p[0] for p in pts]
    ys = [p[1] for p in pts]
    ax.plot(xs, ys, linestyle='none', antialiased=False, **style)


draw(pts_025, marker='+', ms=21 * PX, mew=3.4 * PX, color='#ff0000')
draw(pts_03, marker='x', ms=20 * PX, mew=2.2 * PX, color='#00c000')
draw(pts_035, marker=(8, 2, 0), ms=21 * PX, mew=2.4 * PX, color='#0080ff')
draw(pts_04, marker='s', ms=17.5 * PX, mew=3.6 * PX, mfc='none', color='#c000ff')
draw(pts_045, marker='s', ms=21 * PX, mew=0, color='#00eeee')
draw(pts_05, marker=(8, 0, 22.5), ms=16.5 * PX, mew=3.6 * PX, mfc='none', color='#c04000')
draw(pts_05, marker=nubs_cross, ms=20 * PX, mew=3 * PX, mfc='none', color='#c04000')
draw(pts_055, marker=(8, 0, 22.5), ms=18 * PX, mew=0, color='#c8c800')
draw(pts_055, marker=nubs_vert, ms=21 * PX, mew=2.4 * PX, mfc='none', color='#c8c800')

ax.set_xlim(190, 499.4)
ax.set_ylim(-1314, -1310.5)
ax.set_xticks(xtick_vals)
ax.set_yticks(ytick_vals)
ax.set_yticklabels(ytick_text)
ax.tick_params(axis='x', direction='in', length=12 * PX, width=1.5 * PX, top=True, labelsize=32.5, pad=33 * PX)
ax.tick_params(axis='y', direction='in', length=12 * PX, width=3 * PX, right=True, labelsize=32.5, pad=38 * PX)
for spine in ax.spines.values():
    spine.set_linewidth(3 * PX)

# y labels sit a little above their ticks in the original
shift_up = ScaledTranslation(0, 3.5 / 100, fig.dpi_scale_trans)
for lab in ax.get_yticklabels():
    lab.set_transform(lab.get_transform() + shift_up)

fig.text(872 / 1641, 1 - 1372 / 1414, "Iteration", family='DejaVu Sans Mono', fontsize=47, ha='center', va='center')
fig.text(56 / 1641, 1 - 654 / 1414, "E (MeV)", fontsize=38, fontweight='bold', rotation=90, ha='center', va='center')

for k in range(len(labels)):
    fig.text(1627 / 1641, 1 - (64.5 + 54.4 * k) / 1414, labels[k], fontsize=32.5, ha='right', va='center')

plt.savefig('out.png', dpi=100)
